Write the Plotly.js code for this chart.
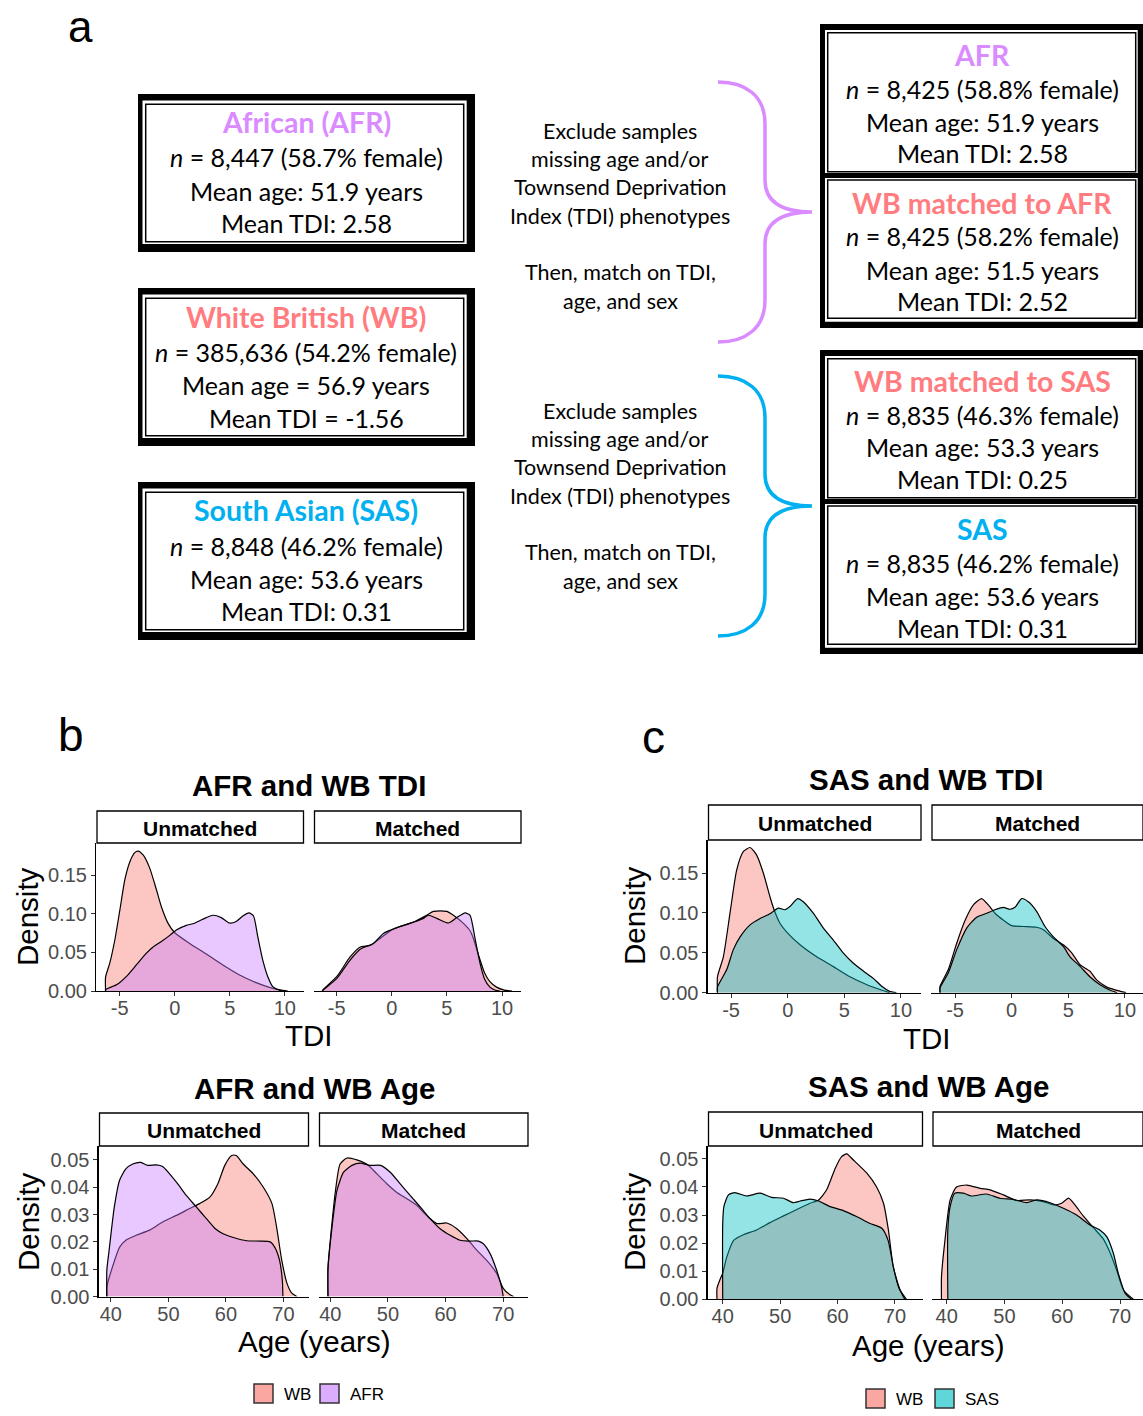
<!DOCTYPE html>
<html>
<head>
<meta charset="utf-8">
<script src="https://cdn.plot.ly/plotly-3.0.1.min.js"></script>
<style>html,body{margin:0;padding:0;background:#fff;}#chart{width:1143px;height:1416px;}</style>
</head>
<body>
<div id="chart"></div>
<script>
// ---------------- DATA ----------------
// Panel a: cohort boxes
const leftBoxTitles = ['African (AFR)', 'White British (WB)', 'South Asian (SAS)'];
const leftBoxN = ['8,447 (58.7% female)', '385,636 (54.2% female)', '8,848 (46.2% female)'];
const leftBoxAge = ['Mean age: 51.9 years', 'Mean age = 56.9 years', 'Mean age: 53.6 years'];
const leftBoxTDI = ['Mean TDI: 2.58', 'Mean TDI = -1.56', 'Mean TDI: 0.31'];
const rightBoxTitles = ['AFR', 'WB matched to AFR', 'WB matched to SAS', 'SAS'];
const rightBoxN = ['8,425 (58.8% female)', '8,425 (58.2% female)', '8,835 (46.3% female)', '8,835 (46.2% female)'];
const rightBoxAge = ['Mean age: 51.9 years', 'Mean age: 51.5 years', 'Mean age: 53.3 years', 'Mean age: 53.6 years'];
const rightBoxTDI = ['Mean TDI: 2.58', 'Mean TDI: 2.52', 'Mean TDI: 0.25', 'Mean TDI: 0.31'];
const stepText1 = ['Exclude samples', 'missing age and/or', 'Townsend Deprivation', 'Index (TDI) phenotypes'];
const stepText2 = ['Then, match on TDI,', 'age, and sex'];

// Panel titles / facets / legend
const plotTitles = ['AFR and WB TDI', 'AFR and WB Age', 'SAS and WB TDI', 'SAS and WB Age'];
const facetLabels = ['Unmatched', 'Matched'];
const legendB = ['WB', 'AFR'];
const legendC = ['WB', 'SAS'];
const tdiTicks = [-5, 0, 5, 10];
const tdiTickText = ['-5', '0', '5', '10'];
const ageTicks = [40, 50, 60, 70];
const tdiDensTicks = [0, 0.05, 0.10, 0.15];
const ageDensTicks = [0, 0.01, 0.02, 0.03, 0.04, 0.05];

// b: AFR vs WB, TDI
const bTdiUnWB_x = [-6.28, -6.28, -5.9, -5.44, -4.98, -4.53, -4.08, -3.63, -3.32, -2.87, -2.27, -1.66, -1.21, -0.6, 0, 1.36, 2.87, 4.38, 5.89, 7.4, 8.61, 9.82, 10.27];
const bTdiUnWB_y = [0, 0.018, 0.036, 0.066, 0.105, 0.144, 0.167, 0.179, 0.181, 0.176, 0.159, 0.131, 0.109, 0.0875, 0.0754, 0.0616, 0.0478, 0.0336, 0.0207, 0.0108, 0.0047, 0.0009, 0];
const bTdiUnAFR_x = [-6.28, -6.28, -5.29, -4.38, -3.47, -2.57, -1.96, -1.21, -0.45, 0.15, 1.06, 1.66, 2.57, 3.47, 4.23, 4.98, 5.59, 6.19, 6.74, 7.16, 7.55, 8.0, 8.46, 8.91, 9.5, 10.1];
const bTdiUnAFR_y = [0, 0.002, 0.008, 0.019, 0.034, 0.049, 0.057, 0.064, 0.072, 0.079, 0.085, 0.087, 0.093, 0.098, 0.095, 0.088, 0.090, 0.097, 0.101, 0.097, 0.070, 0.040, 0.0185, 0.0056, 0.001, 0];
const bTdiMaWB_x = [-6.28, -6.28, -5.0, -3.78, -2.87, -1.96, -1.06, 0, 1.06, 2.11, 3.17, 3.78, 5.0, 5.59, 6.5, 7.1, 7.4, 7.9, 8.4, 8.9, 9.5, 10.2, 10.9];
const bTdiMaWB_y = [0, 0.001, 0.0185, 0.044, 0.057, 0.059, 0.068, 0.079, 0.085, 0.090, 0.098, 0.103, 0.103, 0.098, 0.0875, 0.078, 0.068, 0.045, 0.024, 0.012, 0.005, 0.0012, 0];
const bTdiMaAFR_x = [-6.28, -6.28, -5.0, -3.78, -2.87, -1.66, -0.76, 0.45, 1.66, 2.87, 3.32, 4.08, 5.14, 5.9, 6.65, 7.1, 7.55, 8.0, 8.4, 8.9, 9.4, 9.8];
const bTdiMaAFR_y = [0, 0.0005, 0.016, 0.040, 0.054, 0.0616, 0.0745, 0.082, 0.0875, 0.094, 0.098, 0.094, 0.088, 0.095, 0.101, 0.098, 0.068, 0.036, 0.016, 0.005, 0.001, 0];

// b: AFR vs WB, Age
const bAgeUnWB_x = [39.3, 39.3, 40.3, 41.5, 42.6, 44.4, 46.7, 49.0, 51.4, 53.7, 55.4, 57.2, 58.6, 59.8, 61.0, 61.8, 63.0, 64.75, 66.5, 68.0, 68.8, 69.7, 70.6, 71.45, 72.3];
const bAgeUnWB_y = [0, 0.0036, 0.011, 0.018, 0.0206, 0.0224, 0.0243, 0.0273, 0.0297, 0.0322, 0.034, 0.0364, 0.0413, 0.048, 0.0516, 0.0516, 0.0485, 0.0449, 0.040, 0.034, 0.0255, 0.0133, 0.0049, 0.0012, 0];
const bAgeUnAFR_x = [39.3, 39.3, 39.7, 40.6, 41.5, 42.6, 43.8, 45.2, 46.4, 47.9, 49.0, 50.2, 51.6, 53.1, 54.85, 56.6, 58.1, 59.5, 61.3, 63.6, 65.9, 67.7, 68.5, 69.3, 69.8, 69.9];
const bAgeUnAFR_y = [0, 0.0097, 0.017, 0.0328, 0.0425, 0.0467, 0.0485, 0.0491, 0.048, 0.0482, 0.0476, 0.0449, 0.0413, 0.037, 0.0328, 0.0285, 0.0249, 0.023, 0.0216, 0.0204, 0.0203, 0.020, 0.018, 0.0134, 0.006, 0];
const bAgeMaWB_x = [39.6, 39.6, 40.0, 40.9, 41.7, 42.9, 44.6, 46.3, 48.1, 49.8, 51.5, 53.3, 55.0, 56.7, 58.5, 60.2, 61.9, 63.7, 65.4, 67.1, 68.85, 70.0, 71.2, 71.8];
const bAgeMaWB_y = [0, 0.011, 0.0206, 0.0388, 0.0485, 0.0507, 0.05, 0.0485, 0.0449, 0.0413, 0.0382, 0.0358, 0.0334, 0.0297, 0.0267, 0.0269, 0.0249, 0.0212, 0.017, 0.0133, 0.0085, 0.003, 0.0006, 0];
const bAgeMaAFR_x = [39.6, 39.6, 40.3, 41.15, 42.3, 43.75, 45.2, 46.9, 48.7, 50.4, 52.1, 53.85, 55.6, 57.3, 59.0, 60.8, 62.5, 64.2, 65.7, 66.5, 67.7, 68.85, 69.7, 70.0];
const bAgeMaAFR_y = [0, 0.0097, 0.0255, 0.0388, 0.0455, 0.048, 0.0488, 0.048, 0.048, 0.0455, 0.0413, 0.037, 0.0328, 0.0285, 0.0249, 0.0224, 0.0206, 0.0203, 0.0203, 0.0194, 0.0158, 0.0097, 0.0036, 0];

// c: SAS vs WB, TDI
const cTdiUnWB_x = [-6.2, -6.2, -5.68, -5.09, -4.5, -3.91, -3.32, -2.74, -2.15, -1.56, -1.2, -0.68, 0, 1.09, 2.56, 4.0, 5.5, 7.0, 8.15, 9.0];
const cTdiUnWB_y = [0, 0.020, 0.045, 0.10, 0.154, 0.177, 0.182, 0.1725, 0.15, 0.12, 0.104, 0.087, 0.0746, 0.06, 0.045, 0.033, 0.020, 0.010, 0.004, 0];
const cTdiUnSAS_x = [-6.2, -6.2, -5.38, -4.8, -4.2, -3.32, -2.44, -1.56, -0.82, -0.24, 0.2, 0.88, 1.38, 2.26, 3.15, 4.03, 4.9, 5.8, 6.7, 7.56, 8.3, 9.0, 9.6];
const cTdiUnSAS_y = [0, 0.007, 0.029, 0.054, 0.070, 0.085, 0.093, 0.099, 0.106, 0.104, 0.108, 0.118, 0.114, 0.0996, 0.081, 0.066, 0.050, 0.037, 0.027, 0.018, 0.008, 0.0017, 0];
const cTdiMaWB_x = [-6.32, -6.32, -5.59, -4.85, -4.1, -3.38, -2.65, -2.06, -1.47, -0.74, 0, 1.03, 2.2, 2.8, 3.68, 4.56, 5.3, 6.03, 6.9, 7.5, 8.4, 9.6, 10.1];
const cTdiMaWB_y = [0, 0.008, 0.029, 0.062, 0.091, 0.11, 0.118, 0.11, 0.0996, 0.091, 0.084, 0.083, 0.082, 0.079, 0.068, 0.060, 0.050, 0.035, 0.027, 0.016, 0.007, 0.0017, 0];
const cTdiMaSAS_x = [-6.32, -6.32, -5.59, -4.85, -3.97, -3.09, -2.2, -1.47, -0.74, -0.15, 0.29, 0.88, 1.47, 2.2, 2.94, 3.68, 4.56, 5.15, 6.03, 6.9, 7.8, 8.7, 9.3];
const cTdiMaSAS_y = [0, 0.006, 0.025, 0.054, 0.081, 0.0946, 0.0996, 0.104, 0.107, 0.1046, 0.107, 0.118, 0.114, 0.102, 0.083, 0.070, 0.058, 0.045, 0.033, 0.020, 0.010, 0.003, 0];

// c: SAS vs WB, Age
const cAgeUnWB_x = [39.0, 39.0, 39.5, 40.0, 40.7, 41.9, 43.6, 45.9, 48.2, 50.6, 52.9, 55.2, 56.7, 58.1, 59.6, 60.7, 61.6, 62.75, 65.1, 66.8, 68.0, 68.85, 69.7, 70.9, 72.0];
const cAgeUnWB_y = [0, 0.0039, 0.0069, 0.0093, 0.015, 0.021, 0.023, 0.0247, 0.0273, 0.0297, 0.032, 0.0342, 0.0354, 0.039, 0.0467, 0.0508, 0.0518, 0.0496, 0.0449, 0.040, 0.0342, 0.0247, 0.0116, 0.0033, 0];
const cAgeUnSAS_x = [40.0, 40.0, 40.2, 41.0, 42.1, 44.2, 46.5, 48.5, 50.6, 52.3, 53.5, 55.2, 56.7, 58.7, 61.0, 63.3, 65.65, 67.7, 68.8, 69.7, 70.6, 71.7];
const cAgeUnSAS_y = [0, 0.027, 0.033, 0.0372, 0.038, 0.0368, 0.0378, 0.0363, 0.036, 0.0344, 0.035, 0.0357, 0.035, 0.033, 0.0316, 0.0295, 0.027, 0.0253, 0.021, 0.0116, 0.0045, 0];
const cAgeMaWB_x = [39.1, 39.1, 39.7, 40.6, 41.7, 43.5, 45.8, 47.5, 49.8, 52.1, 54.4, 56.7, 58.5, 59.9, 61.1, 62.2, 63.7, 65.4, 67.1, 68.3, 69.4, 70.6, 72.3];
const cAgeMaWB_y = [0, 0.008, 0.021, 0.0354, 0.040, 0.0407, 0.0395, 0.039, 0.0372, 0.0352, 0.0354, 0.0348, 0.0336, 0.0342, 0.036, 0.0336, 0.0295, 0.0255, 0.0215, 0.0165, 0.0105, 0.0033, 0];
const cAgeMaSAS_x = [40.2, 40.2, 40.6, 41.4, 42.9, 44.3, 46.9, 49.2, 51.5, 53.85, 55.6, 57.9, 60.2, 62.5, 64.8, 66.5, 67.7, 68.85, 69.7, 70.9, 72.0];
const cAgeMaSAS_y = [0, 0.0247, 0.033, 0.0378, 0.0378, 0.0368, 0.0375, 0.036, 0.0356, 0.0344, 0.0354, 0.0344, 0.0324, 0.030, 0.0265, 0.0247, 0.0223, 0.0164, 0.0093, 0.0021, 0];

// ---------------- LAYOUT HELPERS ----------------
const W = 1143, H = 1416;
const px = x => x / W;
const py = y => 1 - y / H;
const GG = 'Liberation Sans, Arial, Helvetica, sans-serif';
const OF = 'Lato, Open Sans, sans-serif';
const FILL = {
  WB: 'rgba(248,118,109,0.42)',
  AFR: 'rgba(199,124,255,0.42)',
  SAS: 'rgba(0,191,196,0.42)'
};
const KEY = { WB: '#FBA7A1', AFR: '#DCADFF', SAS: '#5ED6DA' };
const C_AFR = '#D98BFF', C_WB = '#FF7C80', C_SAS = '#00B0F0';

const annotations = [];
const shapes = [];
function ann(text, x, y, o) {
  o = o || {};
  annotations.push({
    text: text, x: px(x), y: py(y), xref: 'paper', yref: 'paper', showarrow: false,
    xanchor: o.xanchor || 'center', yanchor: o.yanchor || 'middle',
    textangle: o.angle || 0,
    font: { family: o.family || GG, size: o.size || 20, color: o.color || '#000', weight: o.weight || 400 }
  });
}
function rect(x0, y0, x1, y1, o) {
  shapes.push({
    type: 'rect', xref: 'paper', yref: 'paper', x0: px(x0), x1: px(x1), y0: py(y1), y1: py(y0),
    line: { color: o.line || '#000', width: o.lw === undefined ? 1 : o.lw },
    fillcolor: o.fill || 'rgba(0,0,0,0)', layer: o.layer || 'above'
  });
}
function pathShape(cmds, color, width) {
  const s = cmds.map(c => c[0] + ' ' + c.slice(1).reduce((acc, v, i) => {
    acc.push(i % 2 === 0 ? px(v).toFixed(5) : py(v).toFixed(5)); return acc;
  }, []).join(' ')).join(' ');
  shapes.push({ type: 'path', xref: 'paper', yref: 'paper', path: s, line: { color: color, width: width } });
}

// ---------------- PANEL a ----------------
ann('a', 80, 0, { size: 44, yanchor: 'top' });
const leftTops = [94, 288, 482];
const leftColors = [C_AFR, C_WB, C_SAS];
leftTops.forEach((t, i) => {
  rect(138, t, 475, t + 158, { fill: '#000', lw: 0 });
  rect(142.5, t + 6.5, 466.7, t + 150, { fill: '#fff', lw: 0 });
  rect(145.7, t + 10.2, 463.7, t + 147.7, { fill: '#fff', lw: 1.5 });
  ann('<b>' + leftBoxTitles[i] + '</b>', 306, t + 28.5, { family: OF, size: 28.5, color: leftColors[i] });
  ann('<i>n</i> = ' + leftBoxN[i], 306, t + 63.5, { family: OF, size: 25 });
  ann(leftBoxAge[i], 306, t + 97, { family: OF, size: 25 });
  ann(leftBoxTDI[i], 306, t + 129.5, { family: OF, size: 25 });
});
const groupTops = [24, 350];
groupTops.forEach(g => {
  rect(820, g, 1143, g + 304, { fill: '#000', lw: 0 });
  rect(825, g + 6, 1137.7, g + 149, { fill: '#fff', lw: 0 });
  rect(825, g + 154, 1137.7, g + 297.7, { fill: '#fff', lw: 0 });
  rect(827.7, g + 8.7, 1135.7, g + 147.7, { fill: '#fff', lw: 1.5 });
  rect(827.7, g + 156, 1135.7, g + 294.3, { fill: '#fff', lw: 1.5 });
});
const rightTops = [24, 172, 350, 498];
const rightColors = [C_AFR, C_WB, C_WB, C_SAS];
rightTops.forEach((t, i) => {
  ann('<b>' + rightBoxTitles[i] + '</b>', 982, t + 30.5, { family: OF, size: 28.5, color: rightColors[i] });
  ann('<i>n</i> = ' + rightBoxN[i], 982, t + 64.5, { family: OF, size: 25 });
  ann(rightBoxAge[i], 982, t + 97.5, { family: OF, size: 25 });
  ann(rightBoxTDI[i], 982, t + 129.5, { family: OF, size: 25 });
});
[0, 280].forEach(off => {
  const ys1 = [131, 159, 187, 216], ys2 = [272, 301];
  stepText1.forEach((s, i) => ann(s, 620, ys1[i] + off, { family: OF, size: 21.5 }));
  stepText2.forEach((s, i) => ann(s, 620, ys2[i] + off, { family: OF, size: 21.5 }));
});
function brace(top, color) {
  const m = top + 130, b = top + 260;
  pathShape([
    ['M', 718, top],
    ['C', 746, top, 765, top + 14, 765, top + 42],
    ['L', 765, m - 32],
    ['C', 765, m - 10, 782, m, 812, m],
    ['C', 782, m, 765, m + 10, 765, m + 32],
    ['L', 765, b - 42],
    ['C', 765, b - 14, 746, b, 718, b]
  ], color, 3.5);
}
brace(82, C_AFR);
brace(376, C_SAS);

// ---------------- PANELS b & c ----------------
ann('b', 71, 735, { size: 46 });
ann('c', 653, 737, { size: 46 });

const panels = [
  { x0: 96, x1: 303.5, top: 843, bot: 991, xr: [-7.15, 11.7], yr: [0, 0.1915], kind: 'tdi', left: true, s1: [bTdiUnWB_x, bTdiUnWB_y], s2: [bTdiUnAFR_x, bTdiUnAFR_y], g: 'AFR', stripTop: 811 },
  { x0: 313.5, x1: 521, top: 843, bot: 991, xr: [-7.1, 11.72], yr: [0, 0.1915], kind: 'tdi', left: false, s1: [bTdiMaWB_x, bTdiMaWB_y], s2: [bTdiMaAFR_x, bTdiMaAFR_y], g: 'AFR', stripTop: 811 },
  { x0: 98.5, x1: 308.5, top: 1146, bot: 1296.5, xr: [37.85, 74.35], yr: [0, 0.0551], kind: 'age', left: true, s1: [bAgeUnWB_x, bAgeUnWB_y], s2: [bAgeUnAFR_x, bAgeUnAFR_y], g: 'AFR', stripTop: 1113 },
  { x0: 318.5, x1: 528, top: 1146, bot: 1296.5, xr: [37.95, 74.3], yr: [0, 0.0551], kind: 'age', left: false, s1: [bAgeMaWB_x, bAgeMaWB_y], s2: [bAgeMaAFR_x, bAgeMaAFR_y], g: 'AFR', stripTop: 1113 },
  { x0: 707.5, x1: 921, top: 840, bot: 992.7, xr: [-7.08, 11.77], yr: [0, 0.1914], kind: 'tdi', left: true, s1: [cTdiUnWB_x, cTdiUnWB_y], s2: [cTdiUnSAS_x, cTdiUnSAS_y], g: 'SAS', stripTop: 805 },
  { x0: 931, x1: 1143, top: 840, bot: 992.7, xr: [-7.12, 11.59], yr: [0, 0.1914], kind: 'tdi', left: false, s1: [cTdiMaWB_x, cTdiMaWB_y], s2: [cTdiMaSAS_x, cTdiMaSAS_y], g: 'SAS', stripTop: 805 },
  { x0: 707.5, x1: 922.5, top: 1146, bot: 1299.3, xr: [37.35, 74.79], yr: [0, 0.0546], kind: 'age', left: true, s1: [cAgeUnWB_x, cAgeUnWB_y], s2: [cAgeUnSAS_x, cAgeUnSAS_y], g: 'SAS', stripTop: 1112 },
  { x0: 932, x1: 1143, top: 1146, bot: 1299.3, xr: [37.46, 73.98], yr: [0, 0.0546], kind: 'age', left: false, s1: [cAgeMaWB_x, cAgeMaWB_y], s2: [cAgeMaSAS_x, cAgeMaSAS_y], g: 'SAS', stripTop: 1112 }
];

const traces = [];
const layout = {
  width: W, height: H, margin: { l: 0, r: 0, t: 0, b: 0 },
  paper_bgcolor: '#fff', plot_bgcolor: 'rgba(0,0,0,0)', showlegend: false,
  font: { family: GG }
};
const tickFont = { family: GG, size: 20, color: '#4D4D4D' };

panels.forEach((p, i) => {
  const n = i + 1;
  const xa = 'xaxis' + (n === 1 ? '' : n), ya = 'yaxis' + (n === 1 ? '' : n);
  const xr = 'x' + (n === 1 ? '' : n), yr = 'y' + (n === 1 ? '' : n);
  layout[xa] = {
    domain: [px(p.x0), px(p.x1)], range: p.xr, anchor: yr,
    showgrid: false, zeroline: false, showline: true, linecolor: '#000', linewidth: 1.1,
    ticks: 'outside', ticklen: 4, tickwidth: 1, tickcolor: '#333', ticklabelstandoff: -5,
    tickvals: p.kind === 'tdi' ? tdiTicks : ageTicks,
    ticktext: p.kind === 'tdi' ? tdiTickText : ageTicks.map(String),
    tickfont: tickFont, fixedrange: true
  };
  layout[ya] = {
    domain: [py(p.bot), py(p.top)], range: p.yr, anchor: xr,
    showgrid: false, zeroline: false, showline: p.left, linecolor: '#000', linewidth: 1.1,
    ticks: p.left ? 'outside' : '', ticklen: 4, tickwidth: 1, tickcolor: '#333',
    tickvals: p.kind === 'tdi' ? tdiDensTicks : ageDensTicks,
    tickformat: '.2f', showticklabels: p.left, tickfont: tickFont, fixedrange: true
  };
  const mk = (s, grp) => ({
    type: 'scatter', mode: 'lines', x: s[0], y: s[1], xaxis: xr, yaxis: yr,
    name: grp, fill: 'tozeroy', fillcolor: FILL[grp],
    line: { color: '#000', width: 1.2, shape: 'spline', smoothing: 0.6 },
    hoverinfo: 'skip', showlegend: false
  });
  traces.push(mk(p.s1, 'WB'));
  traces.push(mk(p.s2, p.g));
  rect(p.x0 + 1, p.stripTop, p.x1, p.top, { fill: '#fff', lw: 1.3 });
  ann('<b>' + facetLabels[i % 2] + '</b>', (p.x0 + 1 + p.x1) / 2, (p.stripTop + p.top) / 2 + 1, { size: 21 });
});

// titles and axis titles
ann('<b>' + plotTitles[0] + '</b>', 309, 785, { size: 29.5 });
ann('<b>' + plotTitles[1] + '</b>', 314, 1088, { size: 29.5 });
ann('<b>' + plotTitles[2] + '</b>', 926, 779, { size: 29.5 });
ann('<b>' + plotTitles[3] + '</b>', 928, 1086, { size: 29.5 });
ann('TDI', 309, 1035, { size: 29.5 });
ann('Age (years)', 314, 1341, { size: 29.5 });
ann('TDI', 927, 1038, { size: 29.5 });
ann('Age (years)', 928, 1345, { size: 29.5 });
ann('Density', 27, 917, { size: 29.5, angle: -90 });
ann('Density', 28, 1222, { size: 29.5, angle: -90 });
ann('Density', 634, 916, { size: 29.5, angle: -90 });
ann('Density', 634, 1222, { size: 29.5, angle: -90 });

// legends
function legend(items, x0s, y0) {
  items.forEach((it, i) => {
    rect(x0s[i], y0, x0s[i] + 19, y0 + 19, { fill: KEY[it], lw: 1.5, line: '#333' });
    ann(it, x0s[i] + 28, y0 + 10, { size: 17, xanchor: 'left' });
  });
}
legend(legendB, [254, 320], 1384);
legend(legendC, [866, 935], 1389);

layout.annotations = annotations;
layout.shapes = shapes;

Plotly.newPlot('chart', traces, layout, { displayModeBar: false, staticPlot: true });
</script>
</body>
</html>
